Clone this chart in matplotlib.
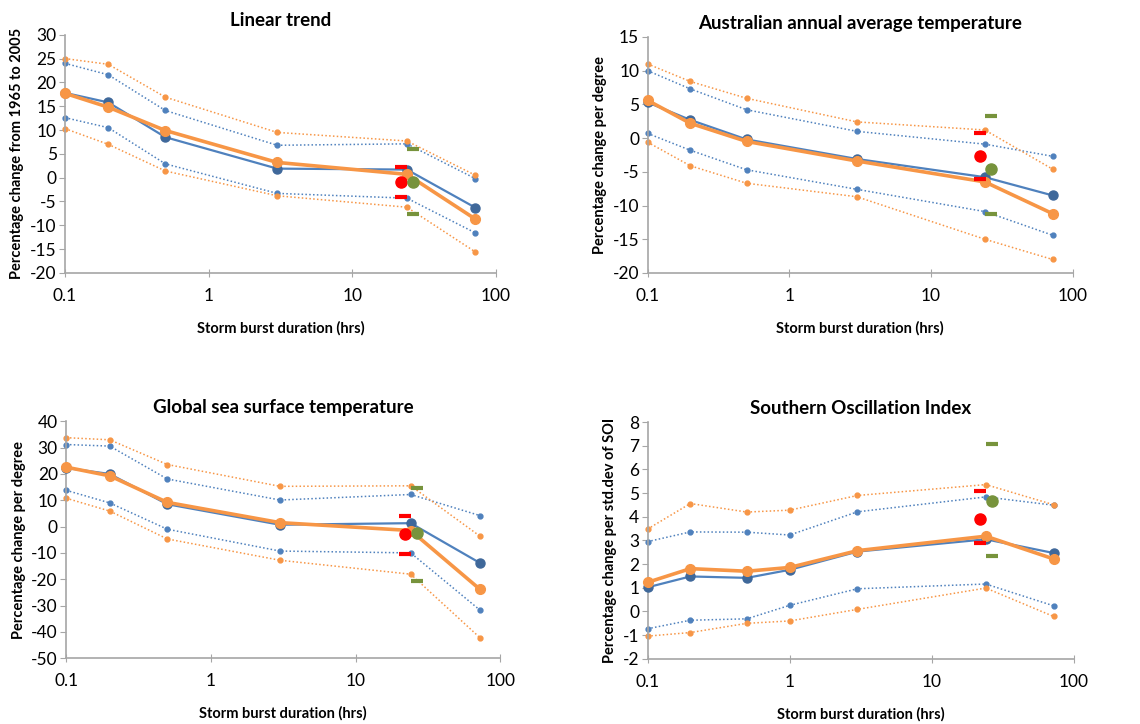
import numpy as np
import matplotlib
matplotlib.use("Agg")
from matplotlib import pyplot as plt

plt.rcParams["font.family"] = ["Lato", "DejaVu Sans"]

# durations (hrs)
dur = [0.1, 0.2, 0.5, 3, 24, 72]
dur_soi = [0.1, 0.2, 0.5, 1, 3, 24, 72]
x_red = 22
x_green = 26.5

# Linear trend
lt_blue = [17.8, 15.8, 8.5, 1.9, 1.7, -6.3]
lt_orange = [17.7, 14.8, 9.9, 3.2, 0.7, -8.7]
lt_blue_hi = [24.0, 21.6, 14.1, 6.8, 7.1, -0.2]
lt_blue_lo = [12.6, 10.5, 2.9, -3.3, -4.3, -11.6]
lt_orange_hi = [25.0, 23.8, 16.9, 9.5, 7.7, 0.5]
lt_orange_lo = [10.3, 7.0, 1.4, -3.8, -6.2, -15.6]
lt_red = [-1.0, 2.2, -4.0]      # point, upper, lower
lt_green = [-0.9, 6.0, -7.6]

# Australian annual average temperature
au_blue = [5.3, 2.7, -0.2, -3.1, -5.8, -8.5]
au_orange = [5.6, 2.2, -0.5, -3.4, -6.5, -11.2]
au_blue_hi = [10.0, 7.3, 4.2, 1.0, -0.9, -2.7]
au_blue_lo = [0.7, -1.8, -4.7, -7.6, -10.9, -14.4]
au_orange_hi = [11.0, 8.4, 5.9, 2.4, 1.2, -4.6]
au_orange_lo = [-0.6, -4.1, -6.7, -8.7, -15.0, -18.0]
au_red = [-2.6, 0.7, -6.0]
au_green = [-4.6, 3.3, -11.3]

# Global sea surface temperature
gs_blue = [22.3, 20.0, 8.5, 0.7, 1.3, -13.8]
gs_orange = [22.6, 19.3, 9.2, 1.5, -1.5, -23.8]
gs_blue_hi = [31.2, 30.6, 18.1, 10.1, 12.2, 4.2]
gs_blue_lo = [13.8, 9.0, -1.0, -9.3, -10.0, -31.7]
gs_orange_hi = [33.8, 33.0, 23.6, 15.3, 15.5, -3.6]
gs_orange_lo = [10.8, 5.9, -4.7, -12.8, -18.1, -42.2]
gs_red = [-2.9, 4.2, -10.4]
gs_green = [-2.5, 14.8, -20.8]

# Southern Oscillation Index
so_blue = [1.02, 1.48, 1.42, 1.76, 2.53, 3.05, 2.47]
so_orange = [1.23, 1.81, 1.70, 1.86, 2.57, 3.18, 2.22]
so_blue_hi = [2.95, 3.36, 3.35, 3.23, 4.21, 4.84, 4.49]
so_blue_lo = [-0.73, -0.37, -0.31, 0.26, 0.96, 1.16, 0.24]
so_orange_hi = [3.48, 4.56, 4.20, 4.28, 4.90, 5.36, 4.51]
so_orange_lo = [-1.04, -0.89, -0.50, -0.40, 0.09, 0.99, -0.21]
so_red = [3.9, 5.08, 2.9]
so_green = [4.65, 7.09, 2.35]

BLUE = "#4F81BD"
BLUE_DK = "#3F689A"
ORANGE = "#F79646"
RED = "#FF0000"
GREEN = "#77933C"
AXC = "#A6A6A6"

panels = [
    dict(title="Linear trend", ylabel="Percentage change from 1965 to 2005",
         x=dur, blue=lt_blue, orange=lt_orange, bhi=lt_blue_hi, blo=lt_blue_lo,
         ohi=lt_orange_hi, olo=lt_orange_lo, red=lt_red, green=lt_green,
         ylim=(-20, 30), step=5, pos=[0.057, 0.623, 0.378, 0.329]),
    dict(title="Australian annual average temperature", ylabel="Percentage change per degree",
         x=dur, blue=au_blue, orange=au_orange, bhi=au_blue_hi, blo=au_blue_lo,
         ohi=au_orange_hi, olo=au_orange_lo, red=au_red, green=au_green,
         ylim=(-20, 15), step=5, pos=[0.568, 0.623, 0.373, 0.326]),
    dict(title="Global sea surface temperature", ylabel="Percentage change per degree",
         x=dur, blue=gs_blue, orange=gs_orange, bhi=gs_blue_hi, blo=gs_blue_lo,
         ohi=gs_orange_hi, olo=gs_orange_lo, red=gs_red, green=gs_green,
         ylim=(-50, 40), step=10, pos=[0.058, 0.091, 0.381, 0.327]),
    dict(title="Southern Oscillation Index", ylabel="Percentage change per std.dev of SOI",
         x=dur_soi, blue=so_blue, orange=so_orange, bhi=so_blue_hi, blo=so_blue_lo,
         ohi=so_orange_hi, olo=so_orange_lo, red=so_red, green=so_green,
         ylim=(-2, 8), step=1, pos=[0.568, 0.090, 0.374, 0.327]),
]

fig = plt.figure(figsize=(11.4, 7.24), dpi=100)

for p in panels:
    ax = fig.add_axes(p["pos"])
    x = p["x"]
    # dotted bounds
    for vals, c in [(p["bhi"], BLUE), (p["blo"], BLUE), (p["ohi"], ORANGE), (p["olo"], ORANGE)]:
        ax.plot(x, vals, ls=(0, (1, 1.5)), lw=1.1, color=c, marker="o", ms=3.5,
                mec=c, mfc=c, clip_on=False)
    # central estimates
    ax.plot(x, p["blue"], color=BLUE, lw=1.6, marker="o", ms=6.5, mfc=BLUE_DK, mec=BLUE_DK,
            zorder=4, clip_on=False)
    ax.plot(x, p["orange"], color=ORANGE, lw=2.6, marker="o", ms=7, mfc=ORANGE, mec=ORANGE,
            zorder=5, clip_on=False)
    # red and green estimates with bounds
    ax.plot([x_red], [p["red"][0]], "o", color=RED, ms=8, zorder=6)
    ax.plot([x_red, x_red], p["red"][1:], ls="none", marker="_", ms=9, mew=3, color=RED, zorder=6)
    ax.plot([x_green], [p["green"][0]], "o", color=GREEN, ms=8, zorder=6)
    ax.plot([x_green, x_green], p["green"][1:], ls="none", marker="_", ms=9, mew=3, color=GREEN, zorder=6)

    ax.set_xscale("log")
    ax.set_xlim(0.1, 100)
    ax.set_xticks([0.1, 1, 10, 100])
    ax.set_xticklabels(["0.1", "1", "10", "100"])
    ax.xaxis.set_minor_locator(matplotlib.ticker.NullLocator())
    lo, hi = p["ylim"]
    ax.set_ylim(lo, hi)
    ax.set_yticks(np.arange(lo, hi + p["step"] / 2, p["step"]))
    ax.yaxis.set_major_formatter(matplotlib.ticker.FuncFormatter(lambda v, pos: "%d" % v))

    for s in ["top", "right"]:
        ax.spines[s].set_visible(False)
    for s in ["left", "bottom"]:
        ax.spines[s].set_color(AXC)
        ax.spines[s].set_linewidth(1.2)
    ax.tick_params(axis="x", direction="inout", length=6, color=AXC, labelsize=12.5, pad=8)
    ax.tick_params(axis="y", direction="out", length=4, color=AXC, labelsize=12.5, pad=2)

    ax.set_title(p["title"], fontsize=13.5, fontweight="bold", pad=6)
    ax.set_xlabel("Storm burst duration (hrs)", fontsize=10.5, fontweight="bold", labelpad=12)
    ax.set_ylabel(p["ylabel"], fontsize=10.5, fontweight="bold", labelpad=4)

fig.savefig("out.png", dpi=100)
